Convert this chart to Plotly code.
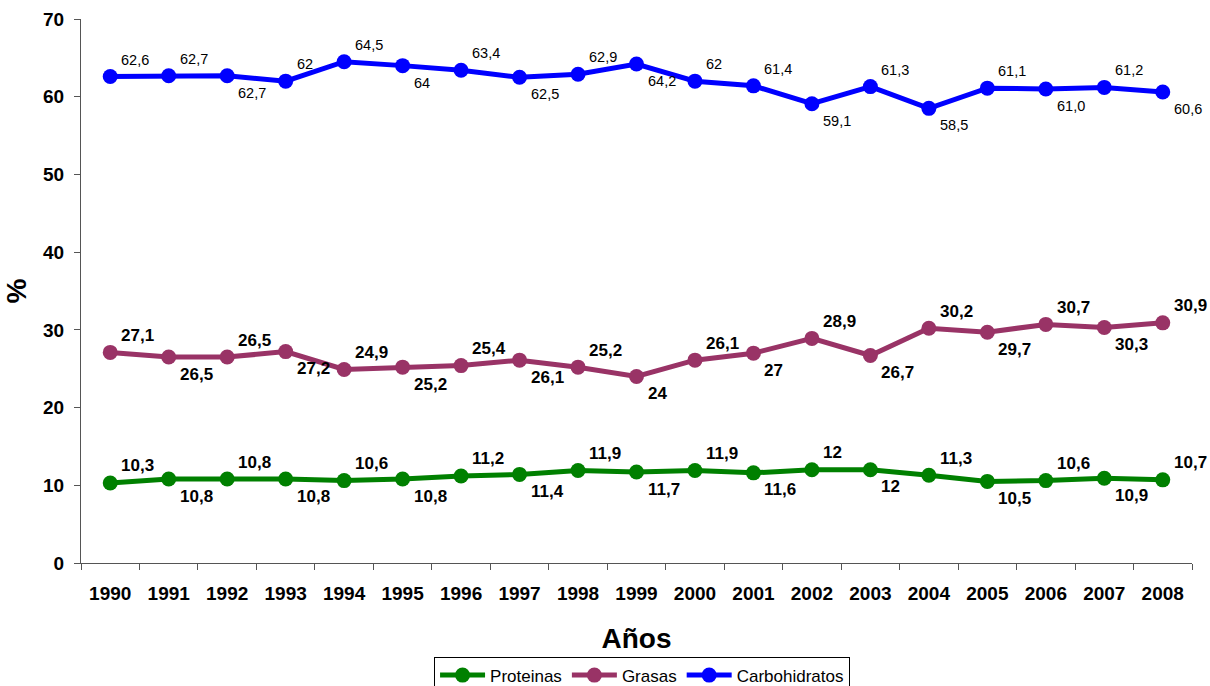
import plotly.graph_objects as go

years = [str(y) for y in range(1990, 2009)]
proteinas = [10.3, 10.8, 10.8, 10.8, 10.6, 10.8, 11.2, 11.4, 11.9, 11.7, 11.9, 11.6, 12, 12, 11.3, 10.5, 10.6, 10.9, 10.7]
grasas = [27.1, 26.5, 26.5, 27.2, 24.9, 25.2, 25.4, 26.1, 25.2, 24, 26.1, 27, 28.9, 26.7, 30.2, 29.7, 30.7, 30.3, 30.9]
carbohidratos = [62.6, 62.7, 62.7, 62.0, 64.5, 64, 63.4, 62.5, 62.9, 64.2, 62, 61.4, 59.1, 61.3, 58.5, 61.1, 61.0, 61.2, 60.6]
prot_labels = ["10,3", "10,8", "10,8", "10,8", "10,6", "10,8", "11,2", "11,4", "11,9", "11,7", "11,9", "11,6", "12", "12", "11,3", "10,5", "10,6", "10,9", "10,7"]
gras_labels = ["27,1", "26,5", "26,5", "27,2", "24,9", "25,2", "25,4", "26,1", "25,2", "24", "26,1", "27", "28,9", "26,7", "30,2", "29,7", "30,7", "30,3", "30,9"]
carb_labels = ["62,6", "62,7", "62,7", "62", "64,5", "64", "63,4", "62,5", "62,9", "64,2", "62", "61,4", "59,1", "61,3", "58,5", "61,1", "61,0", "61,2", "60,6"]
carb_above = [1, 1, 0, 1, 1, 0, 1, 0, 1, 0, 1, 1, 0, 1, 0, 1, 0, 1, 0]

FONT = "Liberation Sans, Arial, sans-serif"

fig = go.Figure()
series = [
    ("Proteinas", proteinas, "#008000"),
    ("Grasas", grasas, "#993366"),
    ("Carbohidratos", carbohidratos, "#0000FF"),
]
for name, vals, col in series:
    fig.add_trace(go.Scatter(
        x=years, y=vals, name=name, mode="lines+markers",
        line=dict(color=col, width=5),
        marker=dict(color=col, size=15),
    ))

annotations = []
for vals, labels, above, fsize, bold in [
    (proteinas, prot_labels, [1 - (i % 2) for i in range(len(years))], 17, True),
    (grasas, gras_labels, [1 - (i % 2) for i in range(len(years))], 17, True),
    (carbohidratos, carb_labels, carb_above, 14.5, False),
]:
    for i, (v, t) in enumerate(zip(vals, labels)):
        up = above[i] == 1
        font = dict(family=FONT, size=fsize, color="black")
        if bold:
            font["weight"] = "bold"
        annotations.append(dict(x=i, y=v, xref="x", yref="y", text=t, showarrow=False,
                                xanchor="left", yanchor="middle",
                                xshift=9, yshift=17 if up else -17, font=font))

fig.update_layout(
    width=1210, height=686,
    margin=dict(l=81, r=18, t=19, b=123, autoexpand=False),
    paper_bgcolor="white", plot_bgcolor="white",
    font=dict(family=FONT, color="black"),
    annotations=annotations,
    showlegend=True,
    legend=dict(orientation="h", x=0.505, xanchor="center", y=-0.172, yanchor="top",
                bordercolor="black", borderwidth=1, font=dict(family=FONT, size=17),
                itemwidth=45, tracegroupgap=0),
    xaxis=dict(
        type="category", range=[-0.5, 18.5], tickson="boundaries",
        ticks="outside", ticklen=6, tickcolor="#555", showline=True, linecolor="#555", linewidth=1,
        showgrid=False, zeroline=False,
        tickfont=dict(family=FONT, size=19, weight="bold"), ticklabelstandoff=13,
        title=dict(text="Años", font=dict(family=FONT, size=28, weight="bold"), standoff=25),
    ),
    yaxis=dict(
        range=[0, 70], dtick=10, ticks="outside", ticklen=6, tickcolor="#555",
        showline=True, linecolor="#555", linewidth=1, showgrid=False, zeroline=False,
        tickfont=dict(family=FONT, size=19, weight="bold"), ticklabelstandoff=6,
        title=dict(text="%", font=dict(family=FONT, size=28, weight="bold"), standoff=8),
    ),
)

fig.write_html("out.html", config={"displayModeBar": False},
               post_script="document.body.style.margin='0';")
